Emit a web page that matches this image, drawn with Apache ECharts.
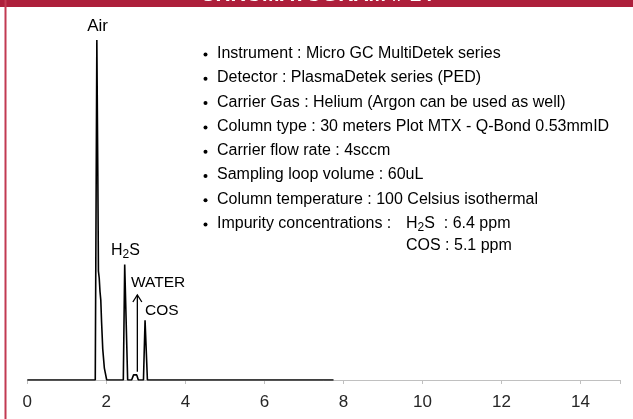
<!DOCTYPE html>
<html>
<head>
<meta charset="utf-8">
<script src="https://cdn.jsdelivr.net/npm/echarts@6/dist/echarts.min.js"></script>
<style>
html,body{margin:0;padding:0;background:#fff;}
#c{width:633px;height:419px;}
</style>
</head>
<body>
<div id="c"></div>
<script>
// ---- data ----
var titleText = 'CHROMATOGRAM # 14';
var xTicks = [0, 2, 4, 6, 8, 10, 12, 14];
var retentionTime = [0, 1.72, 1.76, 1.785, 1.80, 1.82, 1.84, 1.86, 1.88, 1.91, 1.95, 2.01, 2.43, 2.465, 2.54, 2.64, 2.69, 2.73, 2.77, 2.81, 2.94, 2.98, 3.04, 7.75];
var signal        = [0, 0,    100,  60,    32,   30,   26,   23.5, 17,   9,    3.5,  0,    0,    34,    0,    0,    1.5,  1.8,  1.5,  0,    0,    17.6, 0,    0];
var peakNames = ['Air', 'H2S', 'WATER', 'COS'];
var peakLabelX = [1.777, 2.12, 2.625, 2.98];
var peakLabelY = [104, 38.2, 28.7, 20.3];
var waterArrowX = 2.785;
var waterArrowY = [2.4, 25];
var infoLines = [
  'Instrument : Micro GC MultiDetek series',
  'Detector : PlasmaDetek series (PED)',
  'Carrier Gas : Helium (Argon can be used as well)',
  'Column type : 30 meters Plot MTX - Q-Bond 0.53mmID',
  'Carrier flow rate : 4sccm',
  'Sampling loop volume : 60uL',
  'Column temperature : 100 Celsius isothermal',
  'Impurity concentrations :'
];
var impurities = [['H', '2', 'S', '  : 6.4 ppm'], ['COS', '', '', ' : 5.1 ppm']];

var FONT = '"Liberation Sans", Arial, sans-serif';
var chart = echarts.init(document.getElementById('c'), null, {renderer: 'canvas'});
var seriesData = retentionTime.map(function (t, i) { return [t, signal[i]]; });

chart.setOption({
  animation: false,
  backgroundColor: '#ffffff',
  grid: {left: 27.3, right: 13, top: 40, bottom: 39},
  xAxis: {
    type: 'value', min: 0, max: 15, interval: 2,
    axisLine: {lineStyle: {color: '#c0c0c0', width: 1}},
    axisTick: {show: true, length: 4, lineStyle: {color: '#c0c0c0'}},
    splitLine: {show: false},
    axisLabel: {
      color: '#262626', fontSize: 17, fontFamily: FONT, margin: 14,
      formatter: function (v) { return xTicks.indexOf(v) >= 0 ? String(v) : ''; }
    }
  },
  yAxis: {
    type: 'value', min: 0, max: 100, show: false, splitLine: {show: false}
  },
  series: [{
    type: 'line', data: seriesData, showSymbol: false, symbol: 'none',
    lineStyle: {color: '#000', width: 1.6}, z: 5
  }]
});

var measureCtx = document.createElement('canvas').getContext('2d');
function textW(s, size, weight) {
  measureCtx.font = (weight || 'normal') + ' ' + size + 'px ' + FONT;
  return measureCtx.measureText(s).width;
}
function subText(x, yMid, size, parts, color) {
  var els = [];
  var cx = x;
  var subSize = Math.round(size * 0.72);
  var items = [[parts[0], size, 0], [parts[1], subSize, size * 0.28], [parts[2], size, 0], [parts[3] || '', size, 0]];
  items.forEach(function (it) {
    if (!it[0]) return;
    els.push({type: 'text', x: cx, y: yMid + it[2], style: {text: it[0], fontSize: it[1], fontFamily: FONT, fill: color, align: 'left', verticalAlign: 'middle'}});
    cx += textW(it[0], it[1]);
  });
  return els;
}

var g = [];
g.push({type: 'rect', shape: {x: 0, y: 0, width: 633, height: 7}, style: {fill: '#AD1F3B'}, z: 10});
g.push({type: 'text', x: 316.5, y: -4.8, style: {text: titleText, fontSize: 21, fontWeight: 'bold', fontFamily: FONT, fill: '#ffffff', align: 'center', verticalAlign: 'middle'}, z: 11});
g.push({type: 'line', shape: {x1: 5.5, y1: 0, x2: 5.5, y2: 419}, style: {stroke: '#C23A52', lineWidth: 2}, z: 10});

peakNames.forEach(function (name, i) {
  var p = chart.convertToPixel({gridIndex: 0}, [peakLabelX[i], peakLabelY[i]]);
  if (name === 'Air') {
    g.push({type: 'text', x: p[0], y: p[1], style: {text: name, fontSize: 17, fontFamily: FONT, fill: '#000', align: 'center', verticalAlign: 'middle'}});
  } else if (name === 'H2S') {
    g = g.concat(subText(p[0], p[1], 16, ['H', '2', 'S'], '#000'));
  } else {
    g.push({type: 'text', x: p[0], y: p[1], style: {text: name, fontSize: 15.5, fontFamily: FONT, fill: '#000', align: 'left', verticalAlign: 'middle'}});
  }
});
var a0 = chart.convertToPixel({gridIndex: 0}, [waterArrowX, waterArrowY[0]]);
var a1 = chart.convertToPixel({gridIndex: 0}, [waterArrowX, waterArrowY[1]]);
g.push({type: 'line', shape: {x1: a0[0], y1: a0[1], x2: a1[0], y2: a1[1]}, style: {stroke: '#000', lineWidth: 1.3}});
g.push({type: 'polyline', shape: {points: [[a1[0] - 4.5, a1[1] + 7], [a1[0], a1[1]], [a1[0] + 4.5, a1[1] + 7]]}, style: {stroke: '#000', lineWidth: 1.3, fill: null}});

var infoX = 217, infoY0 = 53.5, infoDY = 24.3, infoSize = 16;
infoLines.forEach(function (line, i) {
  var y = infoY0 + i * infoDY;
  g.push({type: 'circle', shape: {cx: 205.5, cy: y + 1, r: 2}, style: {fill: '#000'}});
  g.push({type: 'text', x: infoX, y: y, style: {text: line, fontSize: infoSize, fontFamily: FONT, fill: '#000', align: 'left', verticalAlign: 'middle'}});
});
impurities.forEach(function (imp, j) {
  var y = infoY0 + (infoLines.length - 1 + j) * infoDY - j * 2;
  g = g.concat(subText(406, y, infoSize, imp, '#000'));
});

chart.setOption({graphic: g});
</script>
</body>
</html>
